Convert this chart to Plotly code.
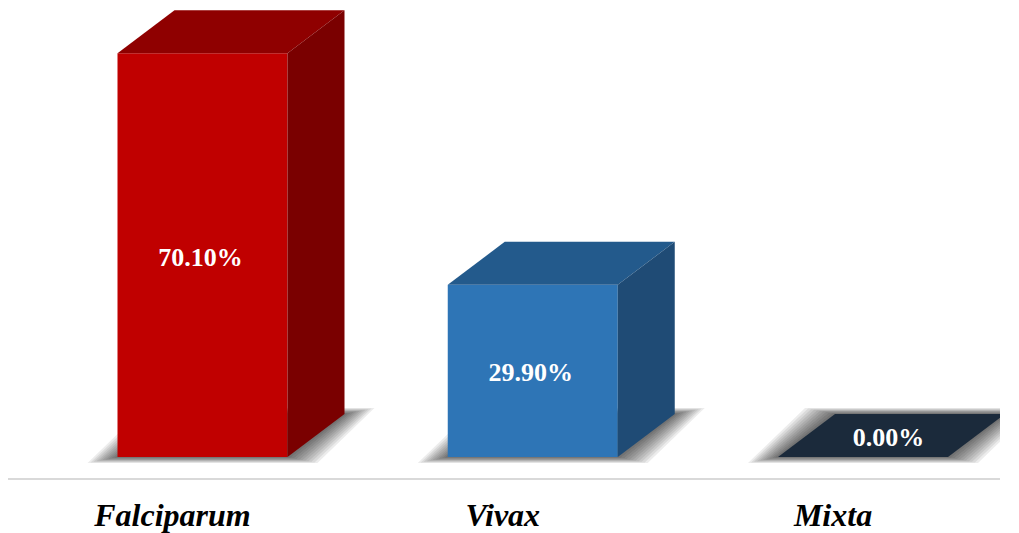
import plotly.graph_objects as go

# ---- data ----
categories = ["Falciparum", "Vivax", "Mixta"]
values = [70.10, 29.90, 0.00]
value_labels = ["70.10%", "29.90%", "0.00%"]

# ---- style ----
front_colors = ["#C00000", "#2E75B6", "#1B2A3B"]
top_colors = ["#8F0000", "#235A8C", "#1B2A3B"]
side_colors = ["#7A0000", "#1F4B75", "#1B2A3B"]

PX_X = 330.25          # pixels per x unit
PX_Y = 5.759           # pixels per y unit
BAR_W = 170 / PX_X     # front face width
DX = 57 / PX_X         # depth offset in x
DY = 43 / PX_Y         # depth offset in y
LABEL_OFF = -30 / PX_X
TEXT_DROP = 4 / PX_Y

fig = go.Figure()

xs = list(range(len(categories)))

# shadows (shapes below traces)
shapes = []
N = 10
for i, v in zip(xs, values):
    L, R = i - BAR_W / 2, i + BAR_W / 2
    for k in range(1, N + 1):
        f = k / N
        ex = 30 * f / PX_X
        ey = 6 * f / PX_Y
        pts = [(L - ex, -ey), (R + ex, -ey), (R + DX + ex, DY + ey), (L + DX - ex, DY + ey)]
        path = "M " + " L ".join(f"{px},{py}" for px, py in pts) + " Z"
        shapes.append(dict(type="path", path=path, xref="x", yref="y", layer="below",
                           fillcolor="rgba(0,0,0,0.075)", line=dict(width=0)))

# front faces
fig.add_trace(go.Bar(x=xs, y=values, width=BAR_W, marker=dict(color=front_colors, line=dict(width=0)),
                     showlegend=False, hoverinfo="skip"))

# top and side faces
for i, v, tc, sc in zip(xs, values, top_colors, side_colors):
    L, R = i - BAR_W / 2, i + BAR_W / 2
    fig.add_trace(go.Scatter(x=[L, R, R + DX, L + DX, L], y=[v, v, v + DY, v + DY, v],
                             fill="toself", fillcolor=tc, mode="lines", line=dict(width=0),
                             showlegend=False, hoverinfo="skip"))
    if v > 0:
        fig.add_trace(go.Scatter(x=[R, R + DX, R + DX, R, R], y=[0, DY, v + DY, v, 0],
                                 fill="toself", fillcolor=sc, mode="lines", line=dict(width=0),
                                 showlegend=False, hoverinfo="skip"))

# value labels
tx = [i - 2 / PX_X if v > 0 else i + DX / 2 - 3 / PX_X for i, v in zip(xs, values)]
ty = [(v / 2 if v > 0 else DY / 2) - TEXT_DROP for v in values]
fig.add_trace(go.Scatter(x=tx, y=ty, mode="text", text=value_labels,
                         textfont=dict(family="Liberation Serif", size=26, color="white", weight="bold"),
                         showlegend=False, hoverinfo="skip"))

x0 = -(202.5 - 8) / PX_X
x1 = x0 + 992 / PX_X
y1 = 457 / PX_Y
y0 = -21 / PX_Y

fig.update_layout(
    width=1019, height=533,
    margin=dict(l=8, r=19, t=0, b=55, autoexpand=False),
    paper_bgcolor="white", plot_bgcolor="white",
    shapes=shapes,
    xaxis=dict(range=[x0, x1], showgrid=False, zeroline=False, showline=True,
               linecolor="#D9D9D9", linewidth=2, automargin=False,
               tickvals=[i + LABEL_OFF for i in xs], ticktext=categories,
               ticks="outside", ticklen=8, tickcolor="rgba(0,0,0,0)",
               tickfont=dict(family="Liberation Serif", size=32, color="black",
                             weight="bold", style="italic")),
    yaxis=dict(range=[y0, y1], visible=False, showgrid=False, zeroline=False, automargin=False),
)

fig.write_html("out.html")
